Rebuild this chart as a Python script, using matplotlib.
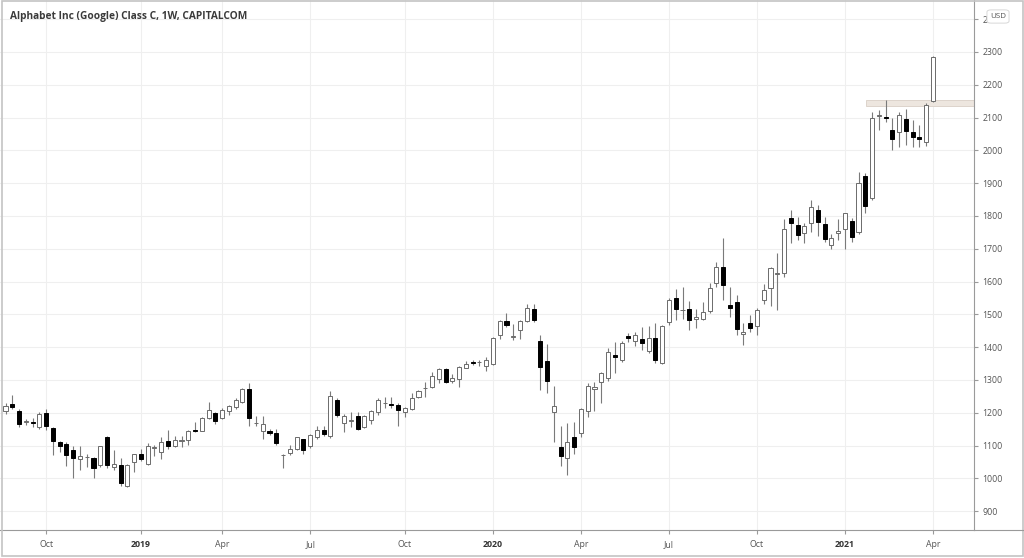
import numpy as np
import pandas as pd
import matplotlib
matplotlib.use("Agg")
import matplotlib.pyplot as plt
from matplotlib.patches import Rectangle, FancyBboxPatch
from matplotlib.lines import Line2D

plt.rcParams["font.family"] = ["Open Sans", "DejaVu Sans"]

TITLE = "Alphabet Inc (Google) Class C, 1W, CAPITALCOM"
FIRST_WEEK = "2018-08-20"

# weekly OHLC
OPEN = [1205, 1227, 1205, 1172, 1173, 1157, 1200, 1152, 1110, 1105,
        1087, 1058, 1064, 1062, 1040, 1125, 1035, 1040, 978, 1050,
        1073, 1045, 1092, 1080, 1113, 1100, 1113, 1117, 1147, 1145,
        1185, 1198, 1183, 1205, 1217, 1233, 1273, 1168, 1143, 1145,
        1137, 1070, 1077, 1090, 1120, 1098, 1125, 1147, 1130, 1240,
        1170, 1176, 1190, 1157, 1178, 1203, 1229, 1226, 1222, 1203,
        1210, 1247, 1274, 1278, 1302, 1332, 1298, 1302, 1337, 1353,
        1354, 1342, 1349, 1437, 1480, 1432, 1452, 1480, 1515, 1420,
        1358, 1201, 1094, 1061, 1125, 1139, 1205, 1271, 1295, 1305,
        1377, 1361, 1434, 1420, 1424, 1388, 1427, 1353, 1478, 1549,
        1513, 1515, 1486, 1486, 1511, 1594, 1643, 1528, 1538, 1440,
        1472, 1464, 1544, 1579, 1622, 1627, 1795, 1772, 1747, 1779,
        1818, 1774, 1711, 1748, 1759, 1784, 1752, 1922, 1855, 2104,
        2101, 2062, 2057, 2096, 2055, 2042, 2026, 2151]
HIGH = [1230, 1255, 1212, 1182, 1185, 1202, 1210, 1155, 1115, 1110,
        1098, 1098, 1075, 1065, 1100, 1128, 1085, 1062, 1045, 1075,
        1088, 1108, 1103, 1125, 1147, 1130, 1130, 1147, 1173, 1186,
        1233, 1203, 1213, 1223, 1245, 1275, 1290, 1190, 1190, 1150,
        1150, 1075, 1102, 1126, 1121, 1134, 1158, 1160, 1266, 1245,
        1195, 1203, 1203, 1193, 1208, 1244, 1247, 1247, 1229, 1218,
        1259, 1269, 1295, 1325, 1335, 1335, 1317, 1342, 1358, 1361,
        1361, 1371, 1432, 1483, 1503, 1469, 1483, 1530, 1530, 1437,
        1410, 1281, 1158, 1170, 1173, 1213, 1292, 1295, 1325, 1398,
        1417, 1419, 1442, 1447, 1460, 1465, 1475, 1467, 1549, 1577,
        1582, 1541, 1515, 1538, 1596, 1660, 1732, 1584, 1559, 1472,
        1498, 1518, 1592, 1645, 1686, 1792, 1818, 1798, 1779, 1848,
        1833, 1798, 1745, 1790, 1810, 1793, 1933, 1930, 2118, 2123,
        2153, 2100, 2118, 2126, 2092, 2077, 2145, 2287]
LOW = [1195, 1212, 1155, 1162, 1155, 1150, 1147, 1070, 1080, 1038,
       1000, 1025, 1033, 1000, 1035, 1030, 1025, 978, 975, 1018,
       1052, 1040, 1068, 1058, 1090, 1095, 1095, 1102, 1140, 1143,
       1180, 1165, 1180, 1193, 1210, 1230, 1160, 1160, 1120, 1132,
       1102, 1030, 1070, 1087, 1075, 1093, 1120, 1130, 1122, 1188,
       1140, 1157, 1147, 1154, 1166, 1193, 1215, 1214, 1160, 1188,
       1208, 1244, 1249, 1275, 1292, 1292, 1290, 1277, 1335, 1346,
       1342, 1328, 1346, 1425, 1462, 1422, 1425, 1478, 1478, 1269,
       1261, 1112, 1036, 1010, 1074, 1127, 1188, 1206, 1229, 1297,
       1322, 1356, 1417, 1403, 1392, 1383, 1351, 1347, 1466, 1483,
       1485, 1452, 1457, 1483, 1505, 1584, 1544, 1493, 1437, 1406,
       1447, 1437, 1532, 1524, 1512, 1615, 1716, 1727, 1716, 1752,
       1739, 1721, 1698, 1727, 1698, 1721, 1745, 1808, 1850, 2062,
       2087, 2001, 2009, 2016, 2011, 2009, 2013, 2148]
CLOSE = [1220, 1218, 1167, 1174, 1168, 1197, 1158, 1113, 1098, 1072,
         1062, 1068, 1066, 1030, 1098, 1040, 1043, 985, 1040, 1073,
         1060, 1100, 1094, 1112, 1097, 1117, 1116, 1143, 1143, 1185,
         1208, 1175, 1208, 1220, 1238, 1273, 1185, 1170, 1165, 1137,
         1107, 1071, 1090, 1125, 1085, 1132, 1147, 1135, 1250, 1193,
         1189, 1178, 1150, 1190, 1205, 1239, 1231, 1225, 1208, 1215,
         1246, 1267, 1275, 1312, 1332, 1295, 1305, 1338, 1347, 1352,
         1355, 1361, 1429, 1480, 1468, 1433, 1480, 1518, 1483, 1338,
         1297, 1221, 1069, 1110, 1095, 1210, 1281, 1279, 1320, 1386,
         1371, 1412, 1427, 1437, 1413, 1429, 1360, 1464, 1544, 1515,
         1513, 1483, 1493, 1506, 1579, 1643, 1589, 1518, 1455, 1445,
         1457, 1513, 1573, 1640, 1625, 1760, 1777, 1742, 1770, 1826,
         1780, 1730, 1733, 1754, 1808, 1737, 1899, 1831, 2098, 2107,
         2100, 2033, 2108, 2060, 2042, 2035, 2138, 2283]

PRICE_TICKS = list(range(900, 2500, 100))
ZONE_LOW, ZONE_HIGH = 2136, 2153    # resistance band
ZONE_START = 127.1                  # bar position where the band begins

W, H = 1024, 558
AX_RIGHT, AX_BOTTOM = 974, 530
PX_PER_BAR = 6.77
BAR0_X = 5.5
PX_PER_100 = 32.8
Y_2000 = 150.3


def px_to_price(y):
    return 2000 - (y - Y_2000) / PX_PER_100 * 100


def main():
    dates = pd.date_range(FIRST_WEEK, periods=len(OPEN), freq="W-MON")
    o, h, l, c = map(np.array, (OPEN, HIGH, LOW, CLOSE))
    x = np.arange(len(o))
    up = c >= o

    fig = plt.figure(figsize=(W / 100, H / 100), dpi=100)
    fig.patch.set_facecolor("white")
    ax = fig.add_axes([0, (H - AX_BOTTOM) / H, AX_RIGHT / W, AX_BOTTOM / H])

    ax.set_xlim(-BAR0_X / PX_PER_BAR, (AX_RIGHT - BAR0_X) / PX_PER_BAR)
    ax.set_ylim(px_to_price(AX_BOTTOM), px_to_price(0))

    # quarter ticks: first weekly bar of Jan / Apr / Jul / Oct
    tick_pos, tick_lab, tick_bold = [], [], []
    for i in range(1, len(dates)):
        d, prev = dates[i], dates[i - 1]
        if d.month != prev.month and d.month in (1, 4, 7, 10):
            tick_pos.append(i)
            if d.month == 1:
                tick_lab.append(str(d.year))
                tick_bold.append(True)
            else:
                tick_lab.append(d.strftime("%b"))
                tick_bold.append(False)

    for tp in tick_pos:
        ax.axvline(tp, color="#efefef", linewidth=0.8, zorder=0)
    for p in PRICE_TICKS:
        ax.axhline(p, color="#efefef", linewidth=0.8, zorder=0)

    # resistance band
    ax.add_patch(Rectangle((ZONE_START, ZONE_LOW),
                           ax.get_xlim()[1] - ZONE_START, ZONE_HIGH - ZONE_LOW,
                           facecolor="#ede6df", edgecolor="#d9cfc6",
                           linewidth=0.6, zorder=1))

    # wicks
    ax.vlines(x, l, h, color="#7a7a7a", linewidth=0.8, zorder=2)

    # bodies
    bw = 0.6
    min_h = 1.6
    bottoms = np.minimum(o, c)
    heights = np.maximum(np.abs(c - o), min_h)
    ax.bar(x[up], heights[up], bottom=bottoms[up], width=bw,
           facecolor="white", edgecolor="#6b6b6b", linewidth=0.7, zorder=3)
    ax.bar(x[~up], heights[~up], bottom=bottoms[~up], width=bw,
           facecolor="black", edgecolor="black", linewidth=0.7, zorder=3)

    # axes styling
    for side in ("top", "left"):
        ax.spines[side].set_visible(False)
    for side in ("bottom", "right"):
        ax.spines[side].set_color("#9a9a9a")
        ax.spines[side].set_linewidth(0.8)

    ax.set_xticks(tick_pos)
    ax.set_xticklabels(tick_lab)
    for lab, bold in zip(ax.get_xticklabels(), tick_bold):
        lab.set_fontweight("bold" if bold else "normal")
        lab.set_color("#333333" if bold else "#555555")
    ax.tick_params(axis="x", length=3, color="#9a9a9a", labelsize=6.3,
                   pad=4)

    ax.yaxis.tick_right()
    ax.set_yticks(PRICE_TICKS)
    ax.set_yticklabels([str(p) for p in PRICE_TICKS])
    ax.tick_params(axis="y", length=3, color="#9a9a9a", labelsize=6.3,
                   labelcolor="#555555", pad=3)

    # title
    fig.text(10 / W, 1 - 16 / H, TITLE, fontsize=7.3, fontweight="bold",
             color="#3a3a3a", ha="left", va="center")

    # USD badge over the partially hidden top label
    fig.patches.append(FancyBboxPatch((989 / W, 1 - 22 / H), 18 / W, 11 / H,
                                      boxstyle="round,pad=0.002,rounding_size=0.004",
                                      transform=fig.transFigure,
                                      facecolor="white", edgecolor="#d8d8d8",
                                      linewidth=0.7, zorder=5))
    fig.text(998 / W, 1 - 16.5 / H, "USD", fontsize=5.8, color="#555555",
             ha="center", va="center", zorder=6)

    # panel separators and outer frame
    fig.lines.append(Line2D([AX_RIGHT / W, 1], [(H - AX_BOTTOM) / H] * 2,
                            transform=fig.transFigure, color="#9a9a9a",
                            linewidth=0.8))
    fig.patches.append(Rectangle((1.5 / W, 2.5 / H), (W - 3) / W, (H - 3) / H,
                                 transform=fig.transFigure, fill=False,
                                 edgecolor="#c4c4c4", linewidth=1.2))

    fig.savefig("out.png", dpi=100, facecolor="white")


if __name__ == "__main__":
    main()
